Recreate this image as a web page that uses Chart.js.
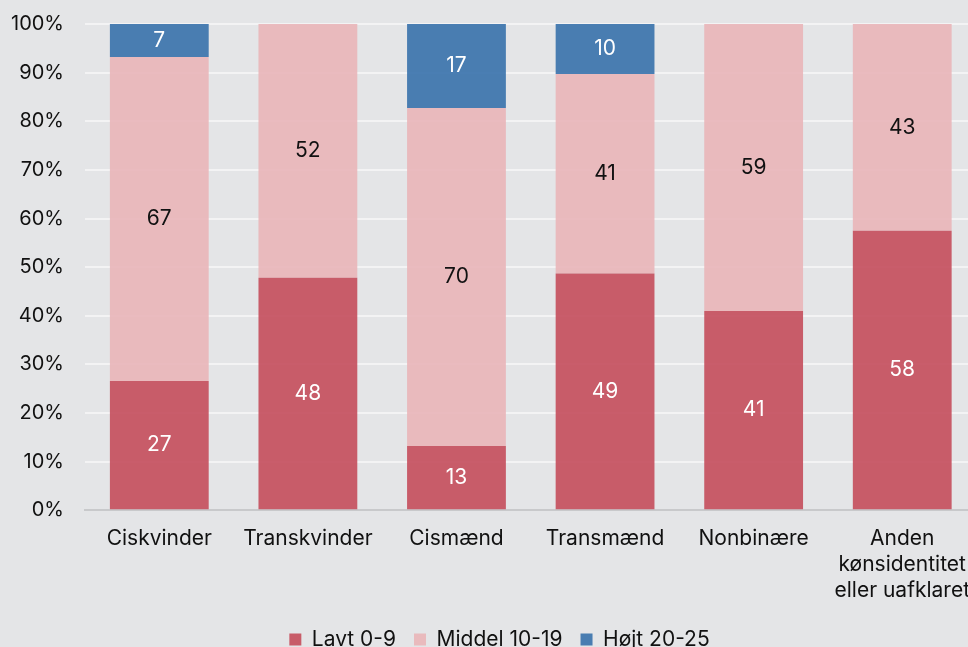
<!DOCTYPE html>
<html>
<head>
<meta charset="utf-8">
<script src="https://cdn.jsdelivr.net/npm/chart.js@4"></script>
<style>
    html, body { margin: 0; padding: 0; background: #e4e5e7; overflow: hidden; }
    #wrap { width: 977px; height: 647px; position: relative; }
</style>
</head>
<body>
<div id="wrap"><canvas id="chart"></canvas></div>
<script>
const categories = ['Ciskvinder', 'Transkvinder', 'Cismænd', 'Transmænd', 'Nonbinære', ['Anden', 'kønsidentitet', 'eller uafklaret']];
const lavt = [26.6, 47.8, 13.2, 48.7, 41.0, 57.5];
const middel = [66.6, 52.2, 69.5, 41.0, 59.0, 42.5];
const hoejt = [6.8, 0, 17.3, 10.3, 0, 0];
const yTicks = [0, 10, 20, 30, 40, 50, 60, 70, 80, 90, 100];

const FONT = 'Inter, "Noto Sans", sans-serif';

// draw the rounded value inside each bar segment
const barLabels = {
    id: 'barLabels',
    afterLayout(chart) {
        // nudge the legend a little to the right, like the original
        chart.legend.left += 16;
        chart.legend.right += 16;
    },
    afterDatasetsDraw(chart) {
        const ctx = chart.ctx;
        ctx.save();
        ctx.font = '21px ' + FONT;
        ctx.textAlign = 'center';
        ctx.textBaseline = 'middle';
        chart.data.datasets.forEach((ds, i) => {
            const meta = chart.getDatasetMeta(i);
            meta.data.forEach((bar, j) => {
                const v = ds.data[j];
                if (!v) return;
                ctx.fillStyle = ds.labelColor;
                ctx.fillText(Math.round(v), bar.x, (bar.y + bar.base) / 2);
            });
        });
        ctx.restore();
    }
};

const ctx = document.getElementById('chart').getContext('2d');
new Chart(ctx, {
    type: 'bar',
    data: {
        labels: categories,
        datasets: [
            { label: 'Lavt 0-9', data: lavt, backgroundColor: 'rgba(198, 80, 94, 0.92)', labelColor: '#ffffff' },
            { label: 'Middel 10-19', data: middel, backgroundColor: 'rgba(233, 182, 186, 0.92)', labelColor: '#111111' },
            { label: 'Højt 20-25', data: hoejt, backgroundColor: 'rgba(60, 116, 172, 0.92)', labelColor: '#ffffff' }
        ]
    },
    options: {
        responsive: true,
        maintainAspectRatio: false,
        animation: false,
        layout: { autoPadding: false, padding: { left: -10, right: 0, top: 24, bottom: -13 } },
        datasets: {
            bar: { barPercentage: 0.665, categoryPercentage: 1.0 }
        },
        plugins: {
            legend: {
                position: 'bottom',
                labels: {
                    font: { family: FONT, size: 21 },
                    color: '#111',
                    boxWidth: 12,
                    boxHeight: 12,
                    padding: 18
                }
            },
            tooltip: { enabled: false }
        },
        scales: {
            x: {
                stacked: true,
                grid: { display: false },
                border: { color: '#c8c9cb', width: 2 },
                ticks: {
                    font: { family: FONT, size: 21, lineHeight: 1.25 },
                    color: '#111',
                    maxRotation: 0,
                    padding: 7
                }
            },
            y: {
                stacked: true,
                min: 0,
                max: 100,
                afterBuildTicks: (axis) => { axis.ticks = yTicks.map(v => ({ value: v })); },
                afterFit: (axis) => { axis.paddingTop = 0; axis.paddingBottom = 0; },
                grid: { color: '#f3f3f4', lineWidth: 2, drawTicks: false },
                border: { display: false },
                ticks: {
                    font: { family: FONT, size: 20 },
                    color: '#111',
                    padding: 21,
                    callback: (v) => v + '%'
                }
            }
        }
    },
    plugins: [barLabels]
});
</script>
</body>
</html>
